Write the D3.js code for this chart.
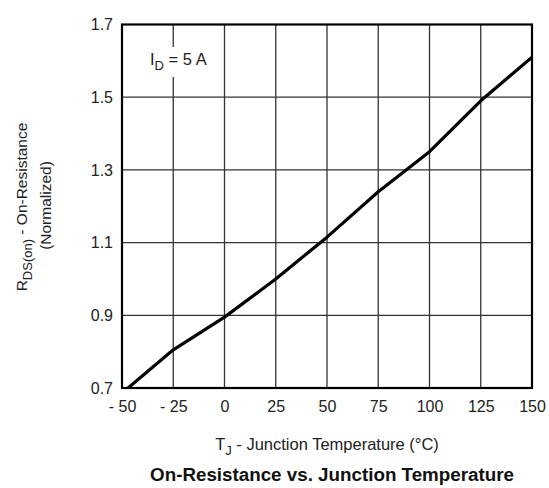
<!DOCTYPE html>
<html>
<head>
<meta charset="utf-8">
<script src="https://cdn.jsdelivr.net/npm/d3@7"></script>
<style>
  body { margin: 0; background: #fff; }
  text { font-family: "Liberation Sans", Arial, sans-serif; fill: #222; }
</style>
</head>
<body>
<svg id="chart"></svg>
<script>
// data
const temps = [-50, -25, 0, 25, 50, 75, 100, 125, 150];
const rdson = [0.686, 0.805, 0.895, 1.0, 1.115, 1.24, 1.35, 1.49, 1.61];
const xTicks = [-50, -25, 0, 25, 50, 75, 100, 125, 150];
const yTicks = [0.7, 0.9, 1.1, 1.3, 1.5, 1.7];

const width = 549, height = 488;
const margin = {top: 24.5, right: 17, bottom: 100, left: 122};
const w = width - margin.left - margin.right;
const h = height - margin.top - margin.bottom;

const svg = d3.select('#chart')
    .attr('width', width)
    .attr('height', height);

const g = svg.append('g')
    .attr('transform', `translate(${margin.left},${margin.top})`);

const x = d3.scaleLinear().domain([-50, 150]).range([0, w]);
const y = d3.scaleLinear().domain([0.7, 1.7]).range([h, 0]);

// grid
g.append('g').selectAll('line')
    .data(xTicks.slice(1, -1))
    .join('line')
    .attr('x1', d => x(d)).attr('x2', d => x(d))
    .attr('y1', 0).attr('y2', h)
    .attr('stroke', '#333').attr('stroke-width', 1.3);

g.append('g').selectAll('line')
    .data(yTicks.slice(1, -1))
    .join('line')
    .attr('x1', 0).attr('x2', w)
    .attr('y1', d => y(d)).attr('y2', d => y(d))
    .attr('stroke', '#333').attr('stroke-width', 1.3);

// axes (labels only)
const xAxis = d3.axisBottom(x)
    .tickValues(xTicks)
    .tickSize(0)
    .tickPadding(13)
    .tickFormat(d => d < 0 ? '- ' + Math.abs(d) : d);
const yAxis = d3.axisLeft(y)
    .tickValues(yTicks)
    .tickSize(0)
    .tickPadding(9)
    .tickFormat(d3.format('.1f'));

g.append('g')
    .attr('transform', `translate(0,${h})`)
    .call(xAxis)
    .call(a => a.select('.domain').remove())
    .selectAll('text')
    .attr('font-size', 16)
    .attr('font-family', '"Liberation Sans", Arial, sans-serif')
    .attr('fill', '#222');

g.append('g')
    .call(yAxis)
    .call(a => a.select('.domain').remove())
    .selectAll('text')
    .attr('font-size', 16)
    .attr('font-family', '"Liberation Sans", Arial, sans-serif')
    .attr('fill', '#222');

// clip for the curve
g.append('defs').append('clipPath')
    .attr('id', 'plot-clip')
    .append('rect')
    .attr('width', w)
    .attr('height', h);

const line = d3.line()
    .x((d, i) => x(temps[i]))
    .y(d => y(d));

g.append('path')
    .datum(rdson)
    .attr('clip-path', 'url(#plot-clip)')
    .attr('d', line)
    .attr('fill', 'none')
    .attr('stroke', '#000')
    .attr('stroke-width', 3.2)
    .attr('stroke-linejoin', 'round');

// frame
g.append('rect')
    .attr('width', w)
    .attr('height', h)
    .attr('fill', 'none')
    .attr('stroke', '#000')
    .attr('stroke-width', 2.2);

// I_D label with white background
const lbl = g.append('g').attr('transform', 'translate(28,40.5)');
lbl.append('rect')
    .attr('x', -3).attr('y', -18)
    .attr('width', 66).attr('height', 30)
    .attr('fill', '#fff');
const lt = lbl.append('text').attr('font-size', 16.5);
lt.append('tspan').text('I');
lt.append('tspan').attr('dy', 5).attr('font-size', 13).text('D');
lt.append('tspan').attr('dy', -5).text(' = 5 A');

// x title
const xt = svg.append('text')
    .attr('x', margin.left + w / 2)
    .attr('y', 450)
    .attr('text-anchor', 'middle')
    .attr('font-size', 16.5);
xt.append('tspan').text('T');
xt.append('tspan').attr('dy', 5).attr('font-size', 13).text('J');
xt.append('tspan').attr('dy', -5).text(' - Junction Temperature (°C)');

// chart title
svg.append('text')
    .attr('x', margin.left + w / 2 + 5)
    .attr('y', 481)
    .attr('text-anchor', 'middle')
    .attr('font-size', 18.8)
    .attr('font-weight', 'bold')
    .style('fill', '#111')
    .text('On-Resistance vs. Junction Temperature');

// y title
const yt1 = svg.append('text')
    .attr('transform', 'translate(27,207) rotate(-90)')
    .attr('text-anchor', 'middle')
    .attr('font-size', 15.5);
yt1.append('tspan').text('R');
yt1.append('tspan').attr('dy', 5).attr('font-size', 13).text('DS(on)');
yt1.append('tspan').attr('dy', -5).text(' - On-Resistance');
svg.append('text')
    .attr('transform', 'translate(51,205.5) rotate(-90)')
    .attr('text-anchor', 'middle')
    .attr('font-size', 15.5)
    .text('(Normalized)');
</script>
</body>
</html>
